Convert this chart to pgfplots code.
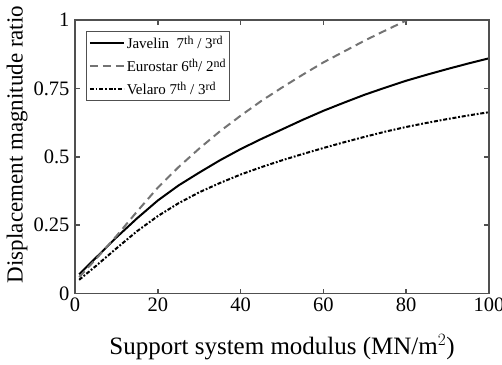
\documentclass[border=0pt]{standalone}
\usepackage{fontspec}
\setmainfont{Liberation Serif}
\usepackage{pgfplots}
\pgfplotsset{compat=1.18}
\definecolor{axgray}{RGB}{80,80,80}
\definecolor{eurogray}{RGB}{115,115,115}
% superscript sized for the legend text
\newcommand{\lsup}[1]{\raisebox{0.6ex}{\fontsize{12}{12}\selectfont #1}}

\begin{document}
\begin{tikzpicture}
\begin{axis}[
  scale only axis,
  width=414pt, height=273.5pt,
  at={(0,0)}, anchor=south west,
  xmin=0, xmax=100, ymin=0, ymax=1,
  axis lines=box,
  xtick pos=both, ytick pos=both,
  xtick={0,20,40,60,80,100},
  ytick={0,0.25,0.5,0.75,1},
  yticklabels={0,0.25,0.5,0.75,1},
  tick align=inside,
  major tick length=5pt,
  axis line style={axgray, line width=1.5pt},
  every tick/.style={axgray, line width=1.5pt},
  /pgf/number format/assume math mode=true,
  tick label style={font=\fontsize{20.5}{23}\selectfont, black},
  xticklabel style={yshift=-1pt},
  yticklabel style={xshift=-2pt},
  xlabel={Support system modulus (MN/m$^2$)},
  ylabel={Displacement magnitude ratio},
  xlabel style={font=\fontsize{25}{28}\selectfont,
    at={(axis description cs:0.5,0)}, anchor=north, yshift=-37pt},
  ylabel style={font=\fontsize{23}{26}\selectfont,
    at={(axis description cs:-0.106,0.545)}, anchor=south},
  clip=true,
  legend style={
    at={(0,1)}, anchor=north west, xshift=11pt, yshift=-11pt,
    draw=axgray, line width=1.5pt,
    font=\fontsize{15}{17}\selectfont,
    inner xsep=2pt, inner ysep=2.5pt, row sep=5pt,
    legend cell align=left,
  },
  legend image post style={line width=2pt},
  legend image code/.code={\draw[#1] (0pt,0pt) -- (34pt,0pt);},
]
\addplot[black, line width=2pt] coordinates {
  (1,0.070) (5,0.130) (10,0.205) (15,0.275) (20,0.340) (25,0.395)
  (30,0.442) (35,0.487) (40,0.528) (45,0.565) (50,0.600) (55,0.635)
  (60,0.668) (65,0.698) (70,0.727) (75,0.753) (80,0.778) (85,0.800)
  (90,0.821) (95,0.841) (100,0.860)
};
\addlegendentry{Javelin\ \ 7\lsup{th} / 3\lsup{rd}}

\addplot[eurogray, line width=2pt, dash pattern=on 8pt off 5pt] coordinates {
  (1,0.060) (5,0.125) (10,0.210) (15,0.300) (20,0.387) (25,0.462)
  (30,0.530) (35,0.593) (40,0.650) (45,0.704) (50,0.753) (55,0.800)
  (60,0.845) (65,0.885) (70,0.925) (75,0.962) (80,0.998) (80.3,1.000)
};
\addlegendentry{Eurostar 6\lsup{th}/ 2\lsup{nd}}

\addplot[black, line width=2pt, dash pattern=on 4pt off 1.8pt on 1.8pt off 1.8pt] coordinates {
  (1,0.050) (5,0.100) (10,0.165) (15,0.228) (20,0.283) (25,0.330)
  (30,0.370) (35,0.404) (40,0.435) (45,0.462) (50,0.487) (55,0.510)
  (60,0.532) (65,0.553) (70,0.573) (75,0.592) (80,0.609) (85,0.624)
  (90,0.638) (95,0.651) (100,0.663)
};
\addlegendentry{Velaro 7\lsup{th} / 3\lsup{rd}}

% frame around the plot area
\draw[axgray, line width=1.5pt] (rel axis cs:0,0) rectangle (rel axis cs:1,1);
\end{axis}
\pgfresetboundingbox
\useasboundingbox (-75pt,-70.5pt) rectangle (427pt,293.5pt);
\end{tikzpicture}
\end{document}
